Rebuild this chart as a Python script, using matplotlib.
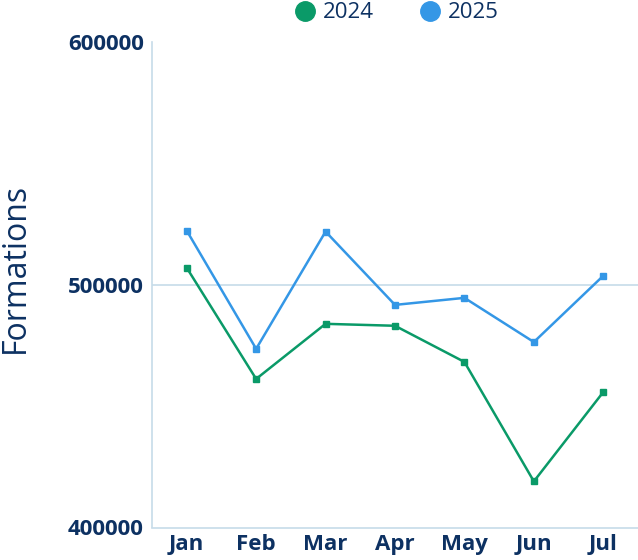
import matplotlib
matplotlib.use("Agg")
import matplotlib.pyplot as plt
from matplotlib.lines import Line2D

months = ["Jan", "Feb", "Mar", "Apr", "May", "Jun", "Jul"]
y2024 = [507000, 461200, 483900, 483100, 468200, 419000, 455800]
y2025 = [522300, 473600, 521900, 491700, 494600, 476400, 503700]

navy = "#0d3162"
green = "#0a9a68"
blue = "#3497e6"
axcol = "#c6dbe9"

plt.rcParams['font.family'] = ['Open Sans', 'DejaVu Sans']

fig = plt.figure(figsize=(6.38, 5.6), dpi=100)
ax = fig.add_axes([152/638, 1 - 527.5/560, 486/638, (527.5 - 42)/560])

x = range(len(months))
ax.plot(x, y2024, color=green, lw=1.8, marker="s", ms=5, zorder=3)
ax.plot(x, y2025, color=blue, lw=1.8, marker="s", ms=5, zorder=3)

ax.set_xlim(-0.5, 6.5)
ax.set_ylim(400000, 600000)
ax.set_yticks([400000, 500000, 600000])
ax.set_yticklabels(["400000", "500000", "600000"])
ax.set_xticks(list(x))
ax.set_xticklabels(months)
ax.axhline(500000, color=axcol, lw=1.2, zorder=1)

for s in ["top", "right"]:
    ax.spines[s].set_visible(False)
for s in ["left", "bottom"]:
    ax.spines[s].set_color(axcol)
    ax.spines[s].set_linewidth(1.2)
ax.tick_params(length=0, colors=navy, labelsize=16)
ax.tick_params(axis="y", pad=6)
ax.tick_params(axis="x", pad=5)
for lab in ax.get_xticklabels() + ax.get_yticklabels():
    lab.set_fontweight("bold")

fig.text(15/638, 0.521, "Formations", rotation=90, fontsize=23, color=navy,
         ha="center", va="center")

handles = [Line2D([], [], ls="", marker="o", ms=14, color=green),
           Line2D([], [], ls="", marker="o", ms=14, color=blue)]
leg = fig.legend(handles, ["2024", "2025"], loc="center left",
                 bbox_to_anchor=(274/638, 0.977), ncol=2, frameon=False,
                 fontsize=16, handlelength=1.0, handletextpad=0.32,
                 columnspacing=2.0)
for t in leg.get_texts():
    t.set_color(navy)

fig.savefig("out.png", dpi=100)
